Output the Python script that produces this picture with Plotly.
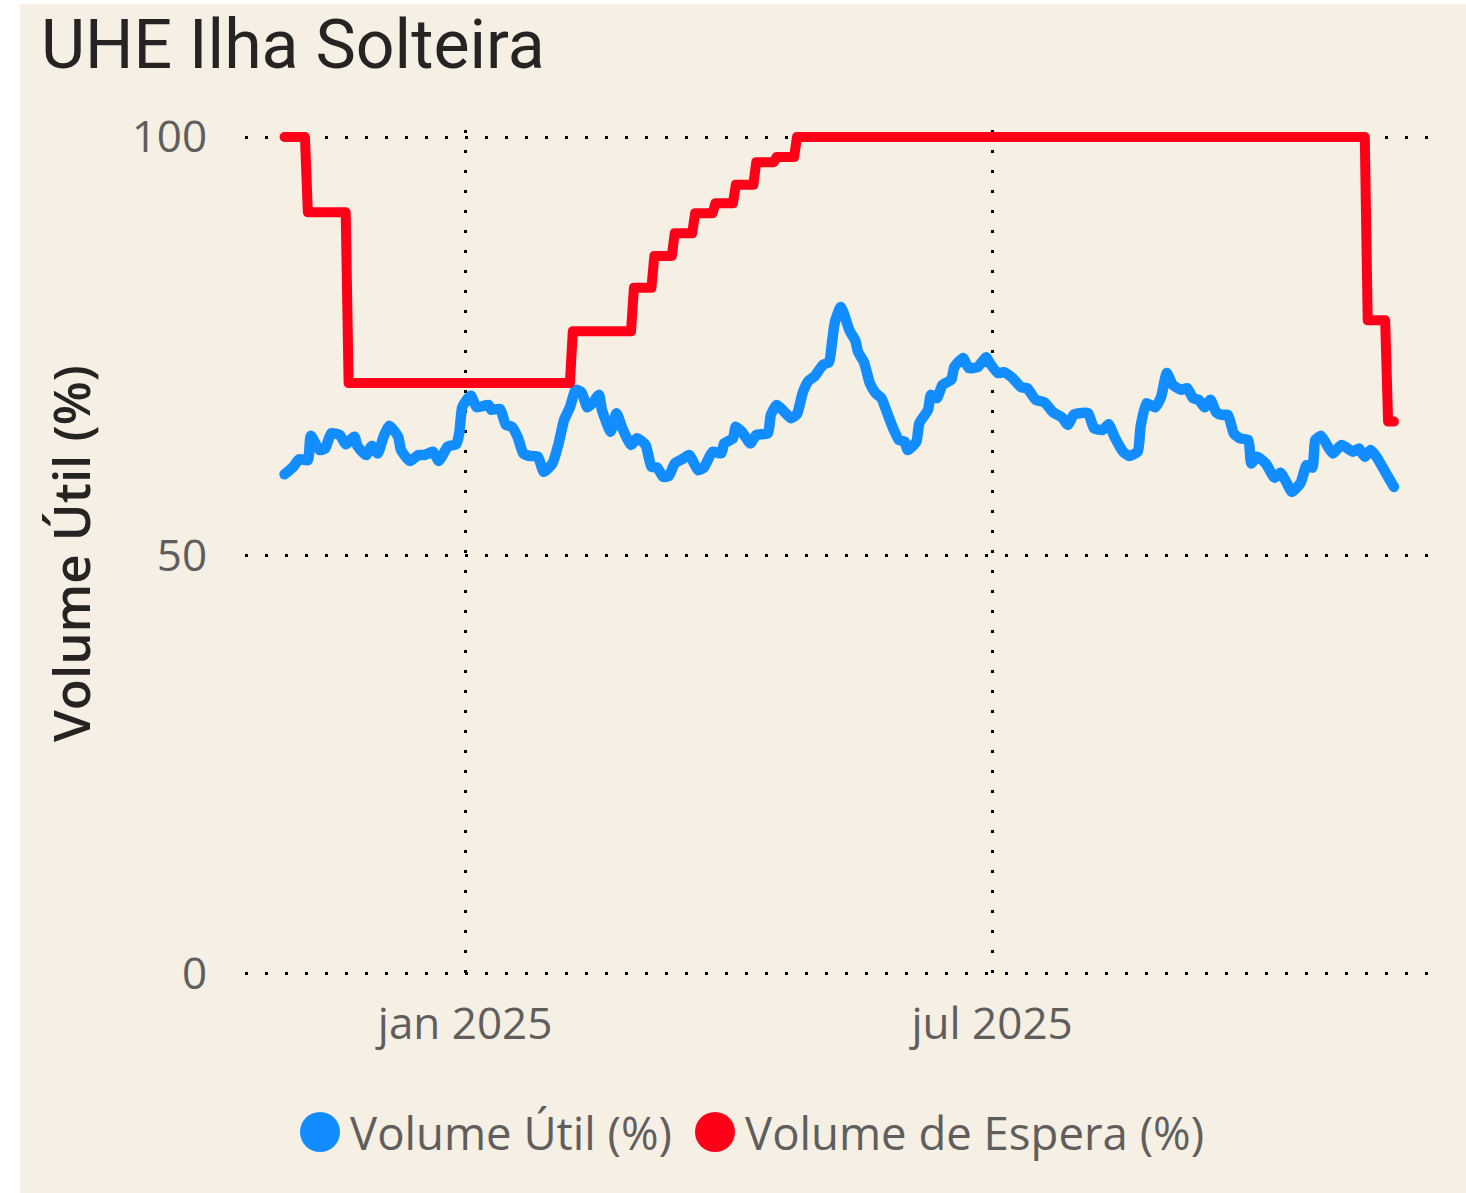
import plotly.graph_objects as go

# ---------------- data ----------------
util_dates = [
    "2024-10-31", "2024-11-03", "2024-11-05", "2024-11-08", "2024-11-09", "2024-11-12", "2024-11-14",
    "2024-11-16", "2024-11-19", "2024-11-21", "2024-11-24", "2024-11-25", "2024-11-28", "2024-11-30",
    "2024-12-02", "2024-12-04", "2024-12-06", "2024-12-09", "2024-12-10", "2024-12-13", "2024-12-16",
    "2024-12-18", "2024-12-21", "2024-12-23", "2024-12-26", "2024-12-29", "2024-12-30", "2024-12-31",
    "2025-01-02", "2025-01-03", "2025-01-05", "2025-01-09", "2025-01-10", "2025-01-13", "2025-01-15",
    "2025-01-17", "2025-01-19", "2025-01-21", "2025-01-23", "2025-01-26", "2025-01-28", "2025-01-31",
    "2025-02-02", "2025-02-04", "2025-02-06", "2025-02-08", "2025-02-10", "2025-02-12", "2025-02-14",
    "2025-02-16", "2025-02-17", "2025-02-20", "2025-02-22", "2025-02-24", "2025-02-27", "2025-03-01",
    "2025-03-04", "2025-03-06", "2025-03-08", "2025-03-10", "2025-03-12", "2025-03-14", "2025-03-17",
    "2025-03-19", "2025-03-22", "2025-03-24", "2025-03-27", "2025-03-30", "2025-03-31", "2025-04-03",
    "2025-04-04", "2025-04-06", "2025-04-09", "2025-04-11", "2025-04-15", "2025-04-16", "2025-04-18",
    "2025-04-20", "2025-04-23", "2025-04-25", "2025-04-27", "2025-04-29", "2025-05-01", "2025-05-04",
    "2025-05-06", "2025-05-07", "2025-05-08", "2025-05-10", "2025-05-11", "2025-05-13", "2025-05-15",
    "2025-05-16", "2025-05-18", "2025-05-20", "2025-05-22", "2025-05-24", "2025-05-26", "2025-05-28",
    "2025-05-30", "2025-06-01", "2025-06-02", "2025-06-05", "2025-06-06", "2025-06-09", "2025-06-10",
    "2025-06-12", "2025-06-14", "2025-06-17", "2025-06-18", "2025-06-21", "2025-06-23", "2025-06-26",
    "2025-06-29", "2025-06-30", "2025-07-03", "2025-07-05", "2025-07-08", "2025-07-11", "2025-07-13",
    "2025-07-16", "2025-07-19", "2025-07-22", "2025-07-25", "2025-07-27", "2025-07-29", "2025-07-31",
    "2025-08-03", "2025-08-05", "2025-08-08", "2025-08-10", "2025-08-12", "2025-08-15", "2025-08-17",
    "2025-08-20", "2025-08-21", "2025-08-23", "2025-08-26", "2025-08-28", "2025-08-30", "2025-09-01",
    "2025-09-04", "2025-09-06", "2025-09-08", "2025-09-10", "2025-09-12", "2025-09-14", "2025-09-16",
    "2025-09-18", "2025-09-20", "2025-09-22", "2025-09-24", "2025-09-27", "2025-09-28", "2025-09-30",
    "2025-10-03", "2025-10-06", "2025-10-08", "2025-10-10", "2025-10-12", "2025-10-15", "2025-10-17",
    "2025-10-19", "2025-10-20", "2025-10-22", "2025-10-24", "2025-10-26", "2025-10-29", "2025-11-02",
    "2025-11-04", "2025-11-06", "2025-11-08", "2025-11-10", "2025-11-13", "2025-11-16",
]
util_values = [
    59.7, 60.6, 61.5, 61.4, 64.3, 62.6, 62.8,
    64.6, 64.4, 63.3, 64.2, 63.1, 62.0, 63.1,
    62.2, 64.2, 65.5, 64.2, 62.6, 61.3, 62.0,
    62.0, 62.4, 61.3, 63.0, 63.3, 64.6, 67.7,
    68.8, 69.1, 67.7, 68.0, 67.4, 67.5, 65.6,
    65.4, 64.2, 62.2, 61.9, 61.8, 60.0, 61.0,
    63.2, 66.2, 67.7, 69.8, 69.5, 67.7, 68.3,
    69.2, 67.4, 64.8, 67.0, 65.2, 63.2, 64.0,
    63.2, 60.6, 60.5, 59.4, 59.5, 61.0, 61.6,
    62.0, 60.2, 60.5, 62.4, 62.2, 63.4, 64.0,
    65.4, 64.8, 63.4, 64.4, 64.6, 66.8, 68.0,
    67.4, 66.4, 66.9, 69.5, 70.9, 71.4, 72.8,
    73.1, 75.4, 77.9, 79.7, 79.0, 76.9, 75.7,
    74.3, 73.1, 70.6, 69.4, 68.8, 67.0, 65.2,
    63.8, 63.6, 62.6, 63.6, 65.8, 67.4, 69.2,
    68.8, 70.4, 71.0, 72.5, 73.6, 72.4, 72.5,
    73.7, 73.1, 71.8, 71.9, 71.2, 70.1, 70.0,
    68.6, 68.3, 67.1, 66.5, 65.6, 66.8, 67.0,
    67.0, 65.2, 65.0, 65.7, 64.2, 62.4, 61.9,
    62.4, 65.4, 68.2, 67.7, 68.9, 71.8, 70.4,
    69.8, 70.0, 68.8, 68.6, 67.7, 68.6, 67.1,
    66.8, 66.8, 64.6, 64.0, 63.8, 61.0, 61.8,
    61.0, 59.3, 59.9, 58.8, 57.6, 58.7, 60.8,
    60.5, 63.8, 64.3, 63.2, 62.2, 63.2, 62.4,
    62.8, 61.8, 62.6, 61.8, 60.0, 58.2,
]

espera_dates = [
    "2024-10-31", "2024-11-07", "2024-11-08", "2024-11-21", "2024-11-22",
    "2025-02-06", "2025-02-07", "2025-02-27", "2025-02-28", "2025-03-06", "2025-03-07",
    "2025-03-13", "2025-03-14", "2025-03-20", "2025-03-21", "2025-03-27", "2025-03-28",
    "2025-04-03", "2025-04-04", "2025-04-10", "2025-04-11", "2025-04-17", "2025-04-18",
    "2025-04-24", "2025-04-25", "2025-11-06", "2025-11-07", "2025-11-13", "2025-11-14",
    "2025-11-16",
]
espera_values = [
    100, 100, 91.0, 91.0, 70.6,
    70.6, 76.8, 76.8, 82.0, 82.0, 85.8,
    85.8, 88.5, 88.5, 90.9, 90.9, 92.1,
    92.1, 94.3, 94.3, 97.0, 97.0, 97.6,
    97.6, 100, 100, 78.1, 78.1, 66.0,
    66.0,
]

series_names = ["Volume Útil (%)", "Volume de Espera (%)"]
series_colors = ["#118DFF", "#FF0019"]
x_tickvals = ["2025-01-01", "2025-07-01"]
x_ticktext = ["jan 2025", "jul 2025"]
y_tickvals = [0, 50, 100]

# ---------------- layout geometry (page pixels; body margin removed) ----------------
W, H = 1466, 1193
PLOT_L, PLOT_R, PLOT_T, PLOT_B = 245, 1428, 130, 977
L, T, R, B = PLOT_L, PLOT_T, W - PLOT_R, H - PLOT_B
PW, PH = PLOT_R - PLOT_L, PLOT_B - PLOT_T


def px_x(px):
    return (px - PLOT_L) / PW


def px_y(py):
    return (PLOT_B - py) / PH


BG = "#F6EFE4"
TXT = "#605E5C"
DARK = "#252423"

fig = go.Figure()
fig.add_trace(go.Scatter(
    x=util_dates, y=util_values, mode="lines", name=series_names[0],
    line=dict(color=series_colors[0], width=10.5, shape="spline", smoothing=0.5), showlegend=False,
))
fig.add_trace(go.Scatter(
    x=espera_dates, y=espera_values, mode="lines", name=series_names[1],
    line=dict(color=series_colors[1], width=10), showlegend=False,
))

grid = dict(showgrid=True, gridcolor="#000000", gridwidth=3, griddash="3px,17px",
            zeroline=False, showline=False)

fig.update_xaxes(
    type="date", range=["2024-10-17 10:00", "2025-11-27 17:00"],
    tickmode="array", tickvals=x_tickvals, ticktext=x_ticktext,
    tickfont=dict(family="Open Sans", size=44, color=TXT),
    ticks="outside", ticklen=8, tickcolor="rgba(0,0,0,0)",
    **grid,
)
fig.update_yaxes(
    range=[-0.36, 100.84], tickmode="array", tickvals=y_tickvals,
    tickfont=dict(family="Open Sans", size=44, color=TXT),
    ticks="outside", ticklen=28, tickcolor="rgba(0,0,0,0)",
    title=dict(text="Volume Útil (%)", standoff=24,
               font=dict(family="Open Sans", size=51, color=DARK, weight=600)),
    **grid,
)

shapes = [
    # white outer strips (left and top)
    dict(type="rect", xref="paper", yref="paper", x0=px_x(-2), x1=px_x(20), y0=px_y(H + 2), y1=px_y(-2),
         fillcolor="#FFFFFF", line=dict(width=0), layer="above"),
    dict(type="rect", xref="paper", yref="paper", x0=px_x(-2), x1=px_x(W + 2), y0=px_y(4), y1=px_y(-2),
         fillcolor="#FFFFFF", line=dict(width=0), layer="above"),
]
annotations = []
legend_items = [(320, 348), (715, 743)]
for (cx, tx), name, col in zip(legend_items, series_names, series_colors):
    shapes.append(dict(type="circle", xref="paper", yref="paper",
                       x0=px_x(cx - 20), x1=px_x(cx + 20), y0=px_y(1152), y1=px_y(1112),
                       fillcolor=col, line=dict(width=0), layer="above"))
    annotations.append(dict(xref="paper", yref="paper", x=px_x(tx), y=px_y(1132),
                            xanchor="left", yanchor="middle", showarrow=False, text=name,
                            font=dict(family="Open Sans", size=45.5, color=TXT)))

fig.update_layout(
    width=W, height=H,
    margin=dict(l=L, r=R, t=T, b=B, autoexpand=False),
    paper_bgcolor=BG, plot_bgcolor=BG,
    title=dict(text="UHE Ilha Solteira", xref="container", yref="container",
               x=41 / W, xanchor="left", y=1 - 44 / H, yanchor="middle",
               font=dict(family="Roboto", size=68, color=DARK)),
    shapes=shapes, annotations=annotations,
    showlegend=False,
)

post = (
    "document.body.style.margin='0';"
    "var st=document.createElement('style');"
    "st.textContent='.scatterlayer .js-line{stroke-linejoin:round;stroke-linecap:round;}';"
    "document.head.appendChild(st);"
)
fig.write_html("out.html", post_script=post, config={"displayModeBar": False})
